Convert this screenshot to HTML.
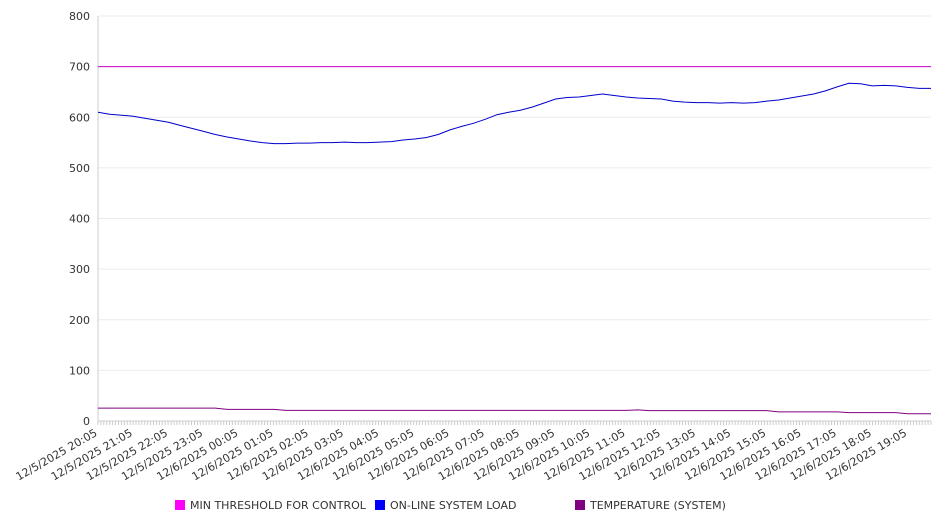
<!DOCTYPE html>
<html><head><meta charset="utf-8"><style>
html,body{margin:0;padding:0;background:#fff;}
svg{display:block;font-family:"DejaVu Sans","Liberation Sans",sans-serif;}
</style></head><body>
<svg id="chart" width="946" height="526">
<g id="grid"></g>
<g id="yaxis"></g>
<g id="xaxis"></g>
<g id="series"></g>
<g id="legend">
  <rect x="175" y="500" width="10" height="10" fill="#ff00ff"/>
  <text x="190" y="509" font-size="11" fill="#333">MIN THRESHOLD FOR CONTROL</text>
  <rect x="375" y="500" width="10" height="10" fill="#0000ff"/>
  <text x="390" y="509" font-size="11" fill="#333">ON-LINE SYSTEM LOAD</text>
  <rect x="575" y="500" width="10" height="10" fill="#800080"/>
  <text x="590" y="509" font-size="11" fill="#333">TEMPERATURE (SYSTEM)</text>
</g>
</svg>
<script>
const yTicks = [0,100,200,300,400,500,600,700,800];
const xLabels = ["12/5/2025 20:05","12/5/2025 21:05","12/5/2025 22:05","12/5/2025 23:05","12/6/2025 00:05","12/6/2025 01:05","12/6/2025 02:05","12/6/2025 03:05","12/6/2025 04:05","12/6/2025 05:05","12/6/2025 06:05","12/6/2025 07:05","12/6/2025 08:05","12/6/2025 09:05","12/6/2025 10:05","12/6/2025 11:05","12/6/2025 12:05","12/6/2025 13:05","12/6/2025 14:05","12/6/2025 15:05","12/6/2025 16:05","12/6/2025 17:05","12/6/2025 18:05","12/6/2025 19:05"];
const loadValues = [610,606,604,602,598,594,590,584,578,572,566,561,557,553,550,548,548,549,549,550,550,551,550,550,551,552,555,557,560,566,575,582,588,596,605,610,614,620,628,636,639,640,643,646,643,640,638,637,636,632,630,629,629,628,629,628,629,632,634,638,642,646,652,660,667,666,662,663,662,659,657,657];
const tempValues = [25.5,25.5,25.5,25.5,25.5,25.5,25.5,25.5,25.5,25.5,25.5,23,23,23,23,23,21,21,21,21,21,21,21,21,21,21,21,21,21,21,21,21,21,21,21,21,21,21,21,21,21,21,21,21,21,21,22,20.5,20.5,20.5,20.5,20.5,20.5,20.5,20.5,20.5,20.5,20.5,18,18,18,18,18,18,16.5,16.5,16.5,16.5,16.5,14.5,14.5,14.5];
const thresholdValue = 700;

const NS="http://www.w3.org/2000/svg";
const X0=98, X1=931, Y0=421, Y1=16, YMAX=800;
const N = loadValues.length;
const xPos = i => X0 + (X1-X0)*i/(N-1);
const hourX = h => X0 + (X1-X0)*h/((N-1)/3);
const yPos = v => Y0 - (Y0-Y1)*v/YMAX;
function mk(tag, attrs, parent){const e=document.createElementNS(NS,tag);for(const k in attrs)e.setAttribute(k,attrs[k]);parent.appendChild(e);return e;}
const grid=document.getElementById('grid'), ya=document.getElementById('yaxis'), xa=document.getElementById('xaxis'), se=document.getElementById('series');

yTicks.forEach(v=>{
  const l=mk('line',{x1:X0,x2:X1,y1:yPos(v),y2:yPos(v),stroke:'#ebebeb','stroke-width':1},grid);
  
  
  const t=mk('text',{x:90,y:yPos(v)+4,'text-anchor':'end','font-size':11,fill:'#333'},ya);
  t.textContent=v;
  
  
});
const ax=mk('line',{x1:X0,x2:X0,y1:Y1,y2:Y0,stroke:'#ccc'},ya);


const bx=mk('line',{x1:X0,x2:X1,y1:Y0,y2:Y0,stroke:'#ccc'},xa);


let d='';
for(let k=0;k<=285;k++){const x=(X0+(X1-X0)*k/285).toFixed(1);d+=`M${x} ${Y0}V${Y0+4}`;}
const tk=mk('path',{d:d,stroke:'#ccc','stroke-width':1},xa);


xLabels.forEach((s,h)=>{
  const x=hourX(h);
  const t=mk('text',{x:x,y:Y0+14,'text-anchor':'end','font-size':11,fill:'#333',transform:`rotate(-30 ${x} ${Y0+14})`},xa);
  t.textContent=s;
  
  
});

const th=mk('line',{x1:X0,x2:X1,y1:yPos(thresholdValue),y2:yPos(thresholdValue),stroke:'#cc00cc','stroke-width':1},se);


function line(vals,color,name){
  const p=mk('polyline',{points:vals.map((v,i)=>xPos(i).toFixed(1)+','+yPos(v).toFixed(1)).join(' '),fill:'none',stroke:color,'stroke-width':1},se);
  
  
}
line(loadValues,'#0000cc','load-line');
line(tempValues,'#800080','temperature-line');
</script>
</body></html>
